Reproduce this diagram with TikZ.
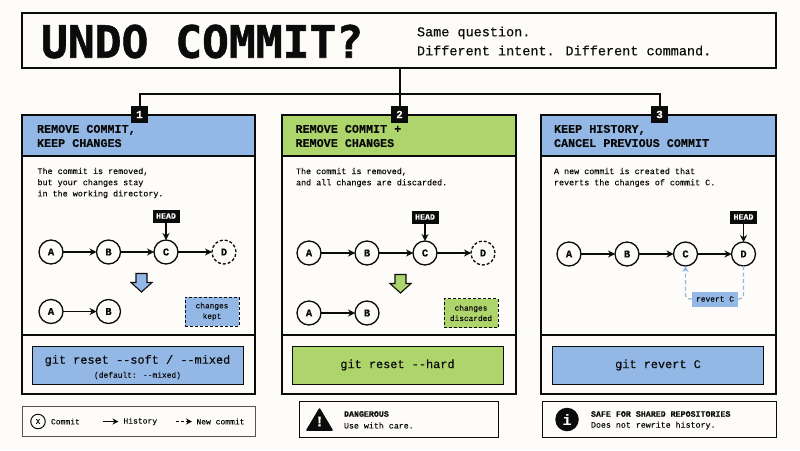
\documentclass[tikz,border=0pt]{standalone}
\usepackage{fontspec}
\setmainfont{Liberation Mono}[FakeBold=0.2,BoldFont={Liberation Mono Bold},BoldFeatures={FakeBold=0.2}]
\newfontfamily\titlefont{DejaVu Sans Mono Bold}[FakeBold=1.2]
\usetikzlibrary{arrows.meta,calc}
\definecolor{paper}{HTML}{FDFCF8}
\definecolor{ink}{HTML}{0B0B0B}
\definecolor{blu}{HTML}{94B8E6}
\definecolor{grn}{HTML}{AED46C}
\definecolor{softline}{HTML}{555555}
\definecolor{dashblue}{HTML}{94B8E6}
\newcommand{\fs}[2]{\fontsize{#1}{#2}\selectfont}
\tikzset{
  base/.style={inner sep=0pt,outer sep=0pt},
  frame/.style={base,draw=ink,line width=2pt},
  txt/.style={base,anchor=west,align=left,text=ink},
  head/.style={txt,font=\fs{11.75}{14.2}\bfseries},
  body/.style={txt,font=\fs{8.4}{11.2}},
  commit/.style={base,circle,draw=ink,line width=1.3pt,fill=paper,minimum size=24pt,font=\fs{10.5}{12}\bfseries,text=ink},
  newcommit/.style={commit,densely dashed},
  hist/.style={draw=ink,line width=1.2pt,-{Stealth[length=7pt,width=7pt]}},
  headtag/.style={base,fill=ink,text=paper,minimum width=27pt,minimum height=13pt,font=\fs{8.3}{9}\bfseries},
  badge/.style={base,fill=ink,text=paper,minimum size=17.5pt,font=\fs{11}{12}\bfseries},
  cmd/.style={base,draw=ink,line width=1pt,minimum width=211pt,minimum height=38pt,align=center,text=ink,font=\fs{11.9}{14}},
  kept/.style={base,draw=ink,line width=.9pt,densely dashed,minimum width=54pt,minimum height=29pt,align=center,text=ink,font=\fs{7.8}{10.4}},
  down/.style={draw=ink,line width=1.1pt,line join=miter},
  note/.style={base,draw=softline,line width=.9pt,fill=paper},
  small/.style={txt,font=\fs{8.0}{10}},
  revert/.style={draw=dashblue,line width=1.2pt,dash pattern=on 4pt off 2.5pt,rounded corners=4pt},
}
\begin{document}
\begin{tikzpicture}[x=1pt,y=-1pt]
\useasboundingbox[fill=paper] (0,0) rectangle (800,450);

% title
\node[frame,minimum width=754pt,minimum height=55pt] (title) at (399,40.5) {};
\node[txt,font=\titlefont\fs{44.6}{50}] (ttl) at (41,41.5) {UNDO COMMIT?};
\node[txt,font=\fs{13.5}{19}] (sub) at (417,41) {Same question.\\Different intent. Different command.};

% cards
\node[frame,minimum width=233pt,minimum height=279pt] (card1) at (138.5,254.5) {};
\node[frame,minimum width=234pt,minimum height=279pt] (card2) at (399,254.5) {};
\node[frame,minimum width=235pt,minimum height=279pt] (card3) at (658.5,254.5) {};
\node[frame,fill=blu,minimum width=233pt,minimum height=41pt] (h1) at (138.5,135.5) {};
\node[frame,fill=grn,minimum width=234pt,minimum height=41pt] (h2) at (399,135.5) {};
\node[frame,fill=blu,minimum width=235pt,minimum height=41pt] (h3) at (658.5,135.5) {};
\draw[ink,line width=2pt] (card1.west|-0,335) coordinate (f1l) -- (card1.east|-f1l);
\draw[ink,line width=2pt] (card2.west|-0,335) coordinate (f2l) -- (card2.east|-f2l);
\draw[ink,line width=2pt] (card3.west|-0,335) coordinate (f3l) -- (card3.east|-f3l);

% badges and connectors
\node[badge] (b1) at (139.5,114.5) {1};
\node[badge] (b2) at (399.5,114.5) {2};
\node[badge] (b3) at (659.5,114.5) {3};
\coordinate (spine) at (399.5,94);
\draw[ink,line width=2pt] (b1.north) |- (spine) -| (b3.north);
\draw[ink,line width=2pt] (b2.north) -- (b2.north|-title.south);

% headers
\node[head] (ht1) at (37,136) {REMOVE COMMIT,\\KEEP CHANGES};
\node[head] (ht2) at (295.5,136) {REMOVE COMMIT +\\REMOVE CHANGES};
\node[head] (ht3) at (554,136) {KEEP HISTORY,\\CANCEL PREVIOUS COMMIT};

% body text
\node[body] (t1) at (37.5,183) {The commit is removed,\\but your changes stay\\in the working directory.};
\node[body] (t2) at (296,177.5) {The commit is removed,\\and all changes are discarded.};
\node[body] (t3) at (554,177.5) {A new commit is created that\\reverts the changes of commit C.};

% card 1 graph
\node[commit] (a1) at (51,252) {A};
\node[commit] (b11) at (108.5,252) {B};
\node[commit] (c1) at (166,252) {C};
\node[newcommit] (d1) at (224,252) {D};
\draw[hist] (a1) -- (b11);
\draw[hist] (b11) -- (c1);
\draw[hist] (c1) -- (d1);
\node[headtag] (hd1) at (166,216) {HEAD};
\draw[hist] (hd1) -- (c1);
\draw[down,fill=blu] (136,273.5) -- (147,273.5) -- (147,282.5) -- (152,282.5) -- (141.5,292) -- (131,282.5) -- (136,282.5) -- cycle;
\node[commit] (a1b) at (51,311.5) {A};
\node[commit] (b1b) at (108.5,311.5) {B};
\draw[hist] (a1b) -- (b1b);
\node[kept,fill=blu] (k1) at (212,311.5) {changes\\kept};

% card 2 graph
\node[commit] (a2) at (309,253) {A};
\node[commit] (b22) at (367,253) {B};
\node[commit] (c2) at (425,253) {C};
\node[newcommit] (d2) at (483,253) {D};
\draw[hist] (a2) -- (b22);
\draw[hist] (b22) -- (c2);
\draw[hist] (c2) -- (d2);
\node[headtag] (hd2) at (425,217) {HEAD};
\draw[hist] (hd2) -- (c2);
\draw[down,fill=grn] (395,274.5) -- (406,274.5) -- (406,283.5) -- (411,283.5) -- (400.5,293) -- (390,283.5) -- (395,283.5) -- cycle;
\node[commit] (a2b) at (309,313) {A};
\node[commit] (b2b) at (367,313) {B};
\draw[hist] (a2b) -- (b2b);
\node[kept,fill=grn] (k2) at (471,313) {changes\\discarded};

% card 3 graph
\node[commit] (a3) at (569,254) {A};
\node[commit] (b33) at (627,254) {B};
\node[commit] (c3) at (685.5,254) {C};
\node[commit] (d3) at (743.5,254) {D};
\draw[hist] (a3) -- (b33);
\draw[hist] (b33) -- (c3);
\draw[hist] (c3) -- (d3);
\node[headtag] (hd3) at (743.5,217) {HEAD};
\draw[hist] (hd3) -- (d3);
\node[base,fill=blu,minimum width=46pt,minimum height=15pt,text=ink,font=\fs{7.9}{10}] (rv) at (715,299) {revert C};
\draw[revert] (d3.south) |- (rv.east);
\draw[revert,-{Stealth[length=6pt,width=6pt]}] (rv.west) -| (c3.south);

% commands
\node[cmd,fill=blu] (cmd1) at (137.5,365) {\rule{0pt}{13pt}git reset -{}-soft / -{}-mixed\\{\fs{7.9}{11}(default: -{}-mixed)}};
\node[cmd,fill=grn] (cmd2) at (397.5,365) {git reset -{}-hard};
\node[cmd,fill=blu] (cmd3) at (658,365) {git revert C};

% legend
\node[note,minimum width=233pt,minimum height=30pt] (leg) at (138.5,421.5) {};
\node[base,circle,draw=ink,line width=1pt,minimum size=14.5pt,font=\fs{7.5}{9},text=ink] (lx) at (38,421.5) {X};
\node[small] (l1) at (51,421.5) {Commit};
\coordinate (hs) at (103,421.5);
\node[small] (l2) at (123.5,421.5) {History};
\draw[hist,line width=1pt,-{Stealth[length=6pt,width=6pt]}] (hs) -- ($(l2.west)+(-5,0)$);
\coordinate (ns) at (176,421.5);
\node[small] (l3) at (196.5,421.5) {New commit};
\draw[hist,line width=1pt,densely dashed,-{Stealth[length=6pt,width=6pt]}] (ns) -- ($(l3.west)+(-4.5,0)$);

% warnings
\node[note,draw=ink,minimum width=199pt,minimum height=36pt] (dng) at (398.5,419) {};
\fill[ink,line join=round,draw=ink,line width=1.5pt] (319.5,409) -- (332,430) -- (307,430) -- cycle;
\node[base,text=paper,font=\fs{15}{15}\bfseries] (bang) at (319.5,421.5) {!};
\node[txt,font=\fs{8.3}{10}\bfseries] (dn1) at (344,414) {DANGEROUS};
\node[txt,font=\fs{8.3}{10}] (dn2) at (344,425.5) {Use with care.};

\node[note,draw=ink,minimum width=234pt,minimum height=36pt] (sf) at (659,419) {};
\node[base,circle,fill=ink,minimum size=23.5pt,text=paper,font=\fs{15}{15}\bfseries] (inf) at (567,419.5) {i};
\node[txt,font=\fs{8.3}{10}\bfseries] (sf1) at (591,414) {SAFE FOR SHARED REPOSITORIES};
\node[txt,font=\fs{8.3}{10}] (sf2) at (591,425.5) {Does not rewrite history.};
\end{tikzpicture}
\end{document}
